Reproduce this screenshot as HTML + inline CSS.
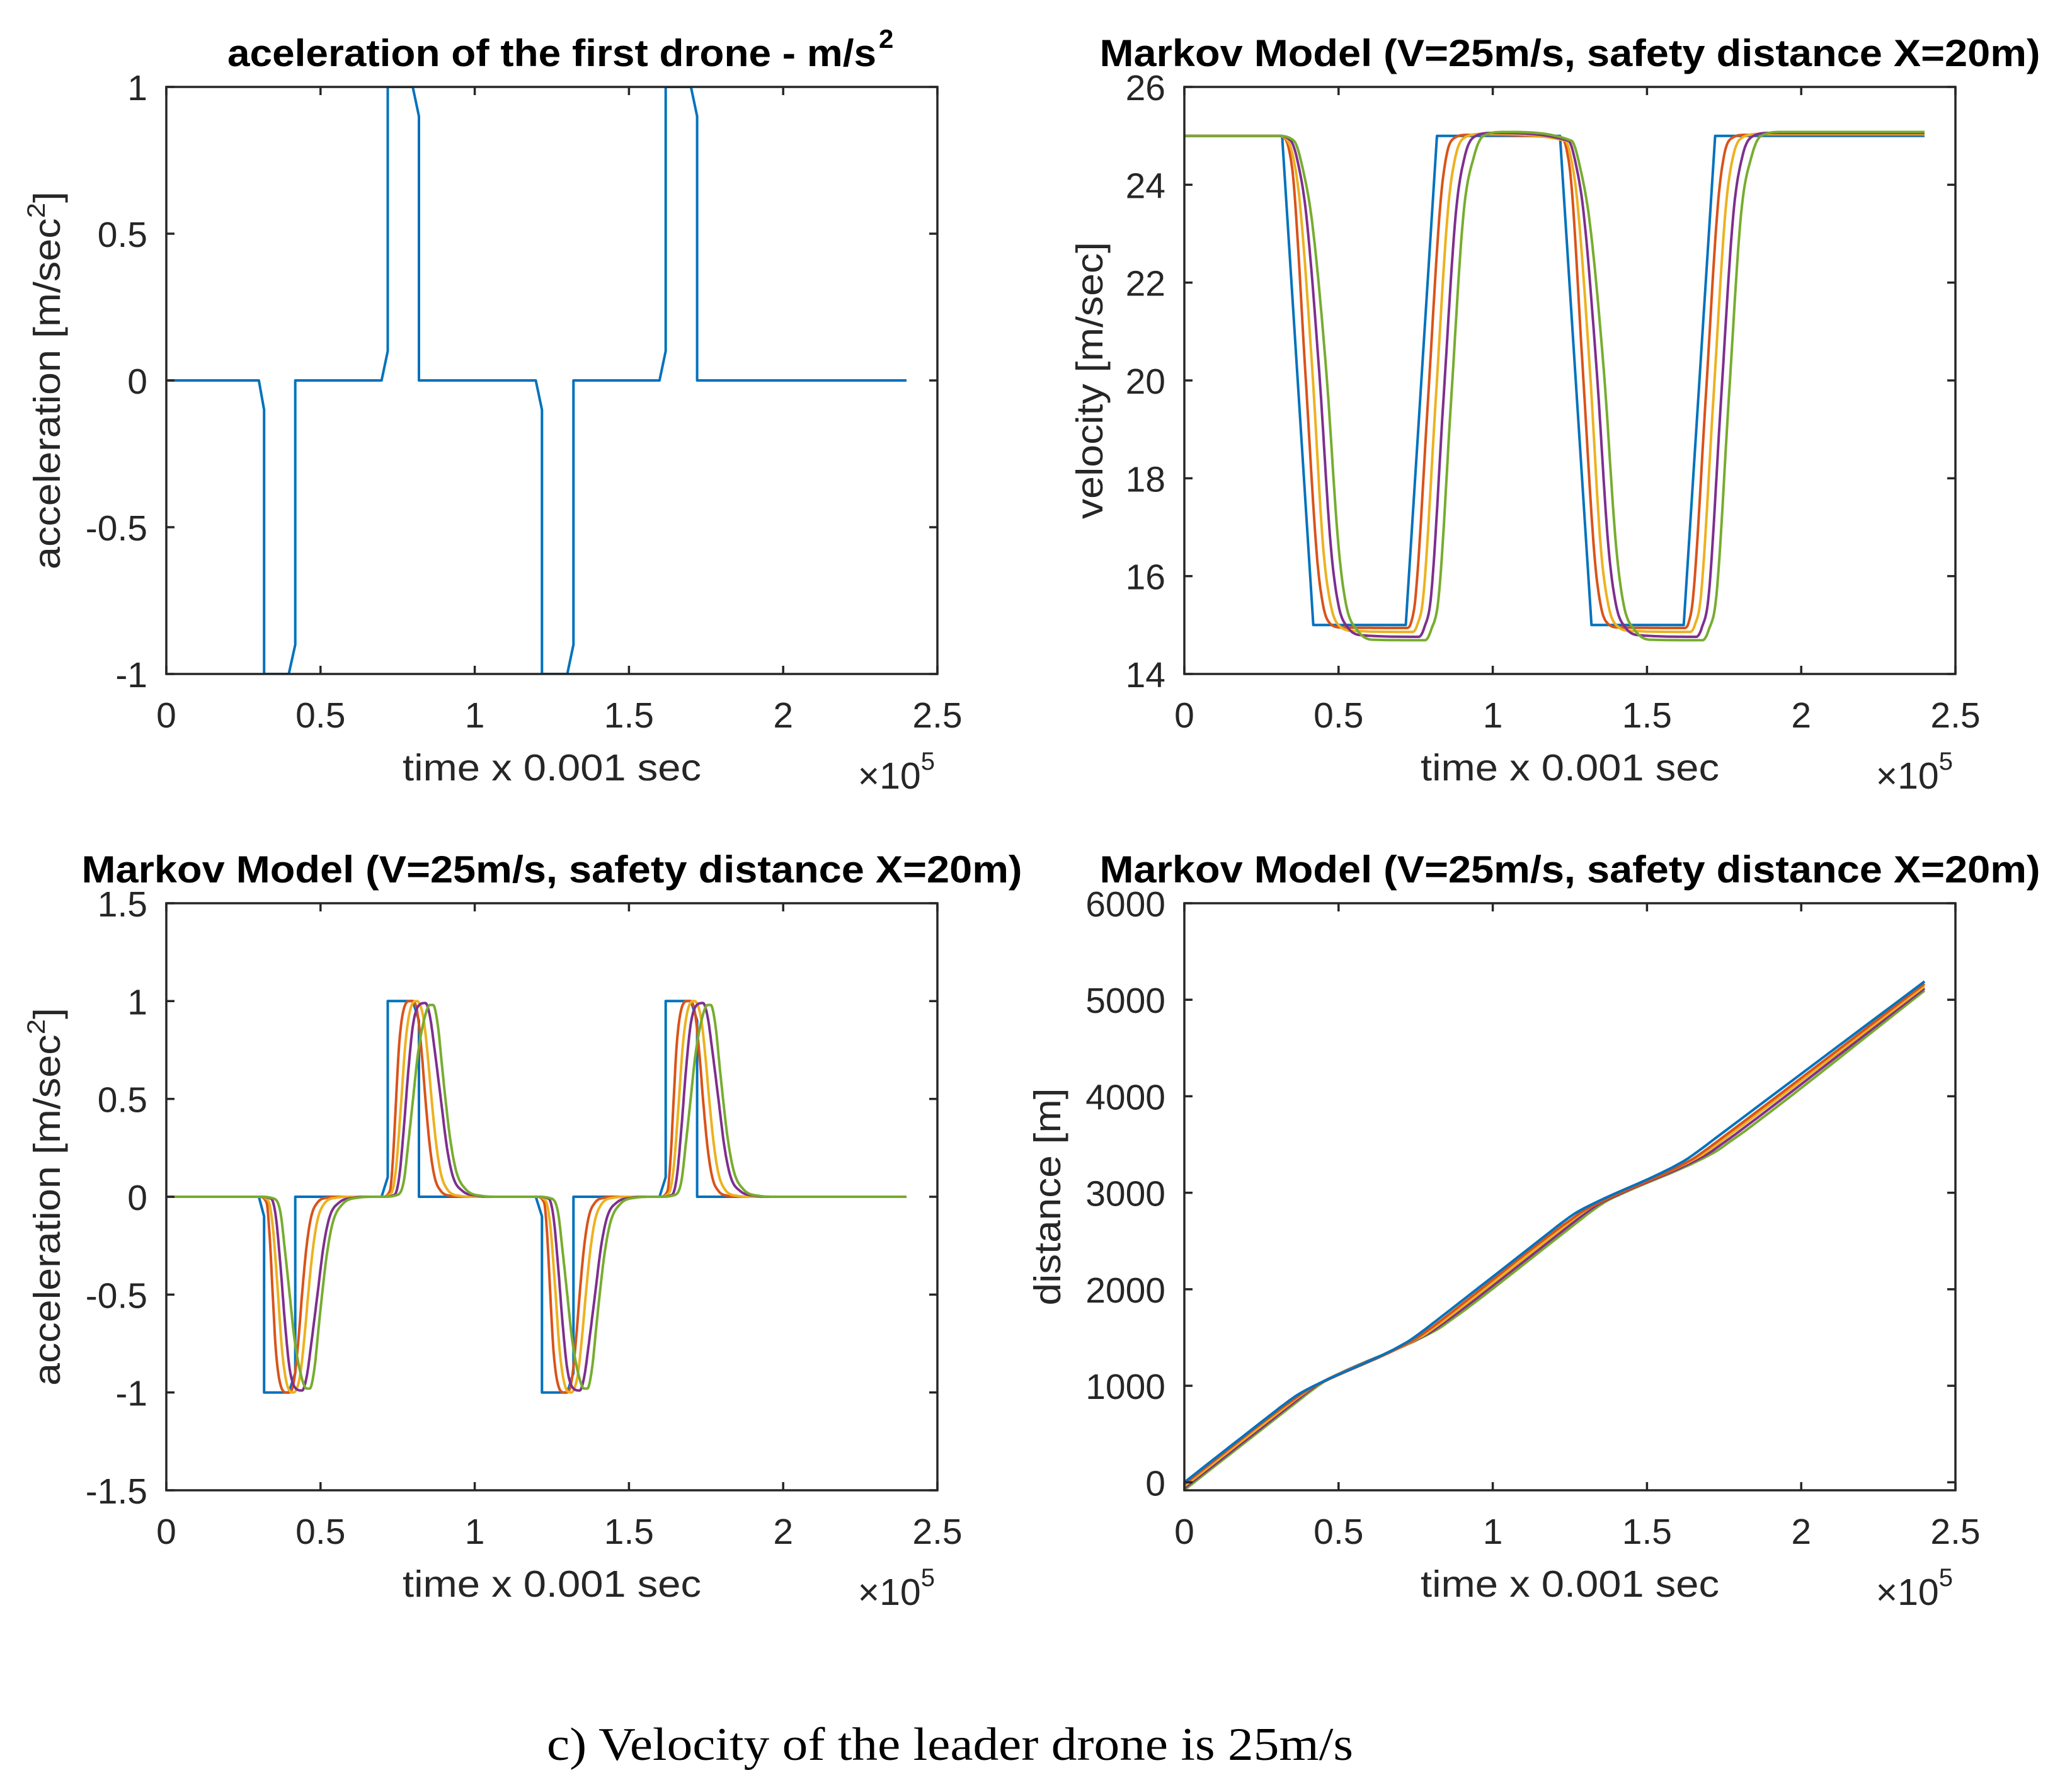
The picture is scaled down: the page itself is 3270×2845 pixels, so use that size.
<!DOCTYPE html>
<html><head><meta charset="utf-8"><style>
html,body{margin:0;padding:0;background:#fff}
svg{display:block}
text{font-family:"Liberation Sans",Arial,sans-serif;fill:#262626}
.ttl{font-weight:bold;fill:#000;font-size:60px}
.tick{font-size:57px}
.lab{font-size:59px}
</style></head><body>
<svg id="fig" width="3270" height="2845" viewBox="0 0 3270 2845" xmlns="http://www.w3.org/2000/svg">
<text x="1508" y="2794" text-anchor="middle" style="font-family:'Liberation Serif',serif;font-size:74px;fill:#000" textLength="1280" lengthAdjust="spacingAndGlyphs">c) Velocity of the leader drone is 25m/s</text>
</svg>
<script>
// ---------- data ----------
const xTicks = [0, 0.5, 1, 1.5, 2, 2.5];
const xTickLabels = ["0", "0.5", "1", "1.5", "2", "2.5"];
const seriesColors = ["#0072BD", "#D95319", "#EDB120", "#7E2F8E", "#77AC30"];

// Plot 1: leader acceleration
const accT = [0, 0.30, 0.317, 0.317, 0.397, 0.418, 0.418, 0.698, 0.718, 0.718, 0.799, 0.819, 0.819, 1.198, 1.218, 1.218, 1.300, 1.320, 1.320, 1.599, 1.619, 1.619, 1.701, 1.721, 1.721, 2.40];
const accV = [0, 0, -0.1, -1, -1, -0.9, 0, 0, 0.1, 1, 1, 0.9, 0, 0, -0.1, -1, -1, -0.9, 0, 0, 0.1, 1, 1, 0.9, 0, 0];
const acc1YTicks = [-1, -0.5, 0, 0.5, 1];
const acc1YLabels = ["-1", "-0.5", "0", "0.5", "1"];

// Plot 2: velocities (followers given relative to cycle start)
const velCycleStarts = [0.30, 1.20];
const velLeaderT = [0, 0.30, 0.317, 0.418, 0.718, 0.819, 1.20, 1.218, 1.32, 1.619, 1.721, 2.40];
const velLeaderV = [25, 25, 25, 15, 15, 25, 25, 25, 15, 15, 25, 25];
const velOff1 = [0, 0.025, 0.04, 0.055, 0.092, 0.13, 0.15, 0.17, 0.21, 0.42, 0.435, 0.45, 0.49, 0.53, 0.55, 0.57, 0.62];
const velVal1 = [25, 24.95, 24.7, 24.0, 20.2, 16.4, 15.4, 15.05, 14.95, 14.94, 15.05, 15.6, 19.6, 23.6, 24.6, 24.93, 25.02];
const velOff2 = [0, 0.035, 0.055, 0.075, 0.115, 0.15, 0.175, 0.20, 0.25, 0.44, 0.455, 0.475, 0.515, 0.555, 0.58, 0.61, 0.67];
const velVal2 = [25, 24.9, 24.5, 23.6, 20.2, 16.6, 15.4, 15.0, 14.88, 14.86, 15.0, 15.6, 19.6, 23.5, 24.6, 24.97, 25.04];
const velOff3 = [0, 0.045, 0.07, 0.095, 0.137, 0.175, 0.20, 0.23, 0.28, 0.46, 0.478, 0.50, 0.54, 0.58, 0.61, 0.64, 0.70];
const velVal3 = [25, 24.9, 24.4, 23.4, 20.2, 16.6, 15.4, 14.95, 14.79, 14.76, 14.95, 15.6, 19.6, 23.4, 24.6, 24.98, 25.06];
const velOff4 = [0, 0.055, 0.085, 0.115, 0.16, 0.20, 0.225, 0.26, 0.31, 0.48, 0.50, 0.525, 0.565, 0.605, 0.64, 0.67, 0.74];
const velVal4 = [25, 24.9, 24.3, 23.2, 20.2, 16.6, 15.4, 14.9, 14.7, 14.69, 14.9, 15.6, 19.6, 23.4, 24.6, 25.0, 25.08];
const velYTicks = [14, 16, 18, 20, 22, 24, 26];
const velYLabels = ["14", "16", "18", "20", "22", "24", "26"];

// Plot 3: follower accelerations (pulse shapes relative to pulse start)
const pulseStarts = [0.30, 0.70, 1.20, 1.60];
const pulseSigns = [-1, 1, -1, 1];
const pOff1 = [0, 0.025, 0.035, 0.045, 0.055, 0.07, 0.09, 0.10, 0.115, 0.13, 0.14, 0.155, 0.17, 0.19, 0.22, 0.26];
const pVal1 = [0, 0.03, 0.2, 0.5, 0.78, 0.96, 1.0, 1.0, 0.93, 0.7, 0.5, 0.25, 0.1, 0.03, 0.005, 0];
const pOff2 = [0, 0.03, 0.045, 0.06, 0.075, 0.09, 0.11, 0.12, 0.135, 0.15, 0.16, 0.175, 0.19, 0.21, 0.25, 0.30];
const pVal2 = [0, 0.02, 0.15, 0.45, 0.78, 0.95, 1.0, 0.99, 0.9, 0.68, 0.5, 0.27, 0.12, 0.04, 0.005, 0];
const pOff3 = [0, 0.04, 0.055, 0.07, 0.085, 0.10, 0.12, 0.14, 0.155, 0.17, 0.19, 0.21, 0.23, 0.26, 0.31, 0.36];
const pVal3 = [0, 0.01, 0.1, 0.35, 0.65, 0.88, 0.98, 0.99, 0.92, 0.75, 0.5, 0.25, 0.1, 0.03, 0.005, 0];
const pOff4 = [0, 0.05, 0.07, 0.085, 0.10, 0.115, 0.135, 0.155, 0.165, 0.18, 0.195, 0.205, 0.22, 0.24, 0.27, 0.32, 0.38];
const pVal4 = [0, 0.01, 0.08, 0.28, 0.5, 0.72, 0.9, 0.98, 0.98, 0.88, 0.65, 0.5, 0.3, 0.13, 0.04, 0.005, 0];
const acc3YTicks = [-1.5, -1, -0.5, 0, 0.5, 1, 1.5];
const acc3YLabels = ["-1.5", "-1", "-0.5", "0", "0.5", "1", "1.5"];

// Plot 4: distances
const distT0 = [0, 0.30, 0.317, 0.367, 0.418, 0.718, 0.768, 0.819, 1.20, 1.218, 1.268, 1.32, 1.619, 1.669, 1.721, 2.40];
const dist0 = [0, 750, 792, 906, 995, 1445, 1555, 1680, 2630, 2675, 2789, 2878, 3328, 3438, 3563, 5190];
const distT1 = [0, 0.32, 0.342, 0.392, 0.443, 0.743, 0.793, 0.844, 1.22, 1.243, 1.293, 1.345, 1.644, 1.694, 1.746, 2.40];
const dist1 = [-20, 780, 830, 942, 1028, 1473, 1583, 1706, 2646, 2698, 2810, 2897, 3342, 3452, 3575, 5165];
const distT2 = [0, 0.34, 0.367, 0.417, 0.468, 0.768, 0.818, 0.869, 1.24, 1.268, 1.318, 1.37, 1.669, 1.719, 1.771, 2.40];
const dist2 = [-40, 810, 876, 988, 1072, 1510, 1620, 1742, 2670, 2740, 2852, 2937, 3375, 3485, 3607, 5140];
const distT3 = [0, 0.36, 0.392, 0.442, 0.493, 0.793, 0.843, 0.894, 1.26, 1.293, 1.343, 1.395, 1.694, 1.744, 1.796, 2.40];
const dist3 = [-60, 840, 920, 1030, 1112, 1546, 1656, 1776, 2690, 2772, 2882, 2964, 3398, 3508, 3628, 5118];
const distT4 = [0, 0.38, 0.417, 0.467, 0.518, 0.818, 0.868, 0.919, 1.28, 1.318, 1.368, 1.42, 1.719, 1.769, 1.821, 2.40];
const dist4 = [-80, 870, 962, 1070, 1150, 1580, 1690, 1808, 2710, 2804, 2912, 2992, 3420, 3530, 3648, 5095];
const distYTicks = [0, 1000, 2000, 3000, 4000, 5000, 6000];
const distYLabels = ["0", "1000", "2000", "3000", "4000", "5000", "6000"];

// ---------- helpers ----------
const NS = "http://www.w3.org/2000/svg";
const fig = document.getElementById("fig");
function mk(tag, attrs, parent) {
  const e = document.createElementNS(NS, tag);
  for (const k in attrs) e.setAttribute(k, attrs[k]);
  (parent || fig).appendChild(e);
  return e;
}
function monotone(xs, ys, n) {
  const m = xs.length, d = [], t = [];
  for (let i = 0; i < m - 1; i++) d.push((ys[i + 1] - ys[i]) / (xs[i + 1] - xs[i] || 1e-9));
  for (let i = 0; i < m; i++) {
    if (i === 0) t.push(d[0]); else if (i === m - 1) t.push(d[m - 2]);
    else t.push(d[i - 1] * d[i] <= 0 ? 0 : (d[i - 1] + d[i]) / 2);
  }
  for (let i = 0; i < m - 1; i++) {
    if (d[i] === 0) { t[i] = 0; t[i + 1] = 0; continue; }
    const a = t[i] / d[i], b = t[i + 1] / d[i], s = a * a + b * b;
    if (s > 9) { const k = 3 / Math.sqrt(s); t[i] = k * a * d[i]; t[i + 1] = k * b * d[i]; }
  }
  const px = [], py = [];
  for (let i = 0; i < m - 1; i++) {
    const h = xs[i + 1] - xs[i];
    for (let j = 0; j < n; j++) {
      const u = j / n, h00 = 2*u*u*u - 3*u*u + 1, h10 = u*u*u - 2*u*u + u, h01 = -2*u*u*u + 3*u*u, h11 = u*u*u - u*u;
      px.push(xs[i] + u * h);
      py.push(h00 * ys[i] + h10 * h * t[i] + h01 * ys[i + 1] + h11 * h * t[i + 1]);
    }
  }
  px.push(xs[m - 1]); py.push(ys[m - 1]);
  return [px, py];
}
function makeAxes(name, L, T, W, H, ymin, ymax, yTicks, yLabels, title, titleLen, ylabel, ylabelX, ylabelLen, supTitle) {
  const g = mk("g", {});
  
  
  const sx = v => L + (v - 0) / 2.5 * W;
  const sy = v => T + H - (v - ymin) / (ymax - ymin) * H;
  const clipId = name + "-clip";
  const cp = mk("clipPath", { id: clipId }, g);
  mk("rect", { x: L, y: T, width: W, height: H }, cp);
  const lines = mk("g", { "clip-path": "url(#" + clipId + ")" }, g);
  
  
  const box = mk("rect", { x: L, y: T, width: W, height: H, fill: "none", stroke: "#262626", "stroke-width": 3.5 }, g);
  
  
  xTicks.forEach((v, i) => {
    const x = sx(v);
    mk("line", { x1: x, y1: T + H, x2: x, y2: T + H - 13, stroke: "#262626", "stroke-width": 3.5 }, g);
    mk("line", { x1: x, y1: T, x2: x, y2: T + 13, stroke: "#262626", "stroke-width": 3.5 }, g);
    const tx = mk("text", { x: x, y: T + H + 85, "text-anchor": "middle", class: "tick" }, g);
    tx.textContent = xTickLabels[i];
    
    
  });
  yTicks.forEach((v, i) => {
    const y = sy(v);
    mk("line", { x1: L, y1: y, x2: L + 13, y2: y, stroke: "#262626", "stroke-width": 3.5 }, g);
    mk("line", { x1: L + W, y1: y, x2: L + W - 13, y2: y, stroke: "#262626", "stroke-width": 3.5 }, g);
    const ty = mk("text", { x: L - 30, y: y + 21, "text-anchor": "end", class: "tick" }, g);
    ty.textContent = yLabels[i];
    
    
  });
  const tt = mk("text", { x: L + W / 2, y: T - 33, "text-anchor": "middle", class: "ttl", textLength: titleLen, lengthAdjust: "spacingAndGlyphs" }, g);
  tt.textContent = title;
  
  
  if (supTitle) {
    const s = mk("text", { x: L + W / 2 + titleLen / 2 + 4, y: T - 62, class: "ttl", style: "font-size:42px" }, g);
    s.textContent = "2";
    
    
  }
  const xl = mk("text", { x: L + W / 2, y: T + H + 169, "text-anchor": "middle", class: "lab", textLength: 474, lengthAdjust: "spacingAndGlyphs" }, g);
  xl.textContent = "time x 0.001 sec";
  
  
  const ex = mk("text", { x: L + W - 4, y: T + H + 182, class: "lab", "text-anchor": "end" }, g);
  
  
  const t1 = mk("tspan", {}, ex);
  t1.textContent = "×10";
  const t2 = mk("tspan", { dy: -30, style: "font-size:40px" }, ex);
  t2.textContent = "5";
  const cy = T + H / 2;
  const yl = mk("text", { x: ylabelX, y: cy, "text-anchor": "middle", class: "lab", transform: "rotate(-90 " + ylabelX + " " + cy + ")", textLength: ylabelLen, lengthAdjust: "spacingAndGlyphs" }, g);
  
  
  if (ylabel.indexOf("sec2") >= 0) {
    yl.textContent = "acceleration [m/sec";
    const sp = mk("tspan", { dy: -24, style: "font-size:40px" }, yl);
    sp.textContent = "2";
    const sp2 = mk("tspan", { dy: 24 }, yl);
    sp2.textContent = "]";
  } else yl.textContent = ylabel;
  return { sx, sy, lines };
}
function drawLine(ax, xs, ys, color, name) {
  let d = "";
  for (let i = 0; i < xs.length; i++) d += (i ? "L" : "M") + ax.sx(xs[i]).toFixed(1) + "," + ax.sy(ys[i]).toFixed(1);
  const p = mk("path", { d: d, fill: "none", stroke: color, "stroke-width": 4, "stroke-linejoin": "round" }, ax.lines);
  
  
}

const L1 = 264, L2 = 1880, T1 = 138, T2 = 1434, W = 1224, H = 932;

const ax1 = makeAxes("leader-acceleration-plot", L1, T1, W, H, -1, 1, acc1YTicks, acc1YLabels,
  "aceleration of the first drone - m/s", 1030, "acceleration [m/sec2]", 95, 600, true);
drawLine(ax1, accT, accV, seriesColors[0], "leader-acceleration-line");

const ax2 = makeAxes("velocity-plot", L2, T1, W, H, 14, 26, velYTicks, velYLabels,
  "Markov Model (V=25m/s, safety distance X=20m)", 1493, "velocity [m/sec]", 1750, 440, false);
drawLine(ax2, velLeaderT, velLeaderV, seriesColors[0], "velocity-line-leader");
[[velOff1, velVal1], [velOff2, velVal2], [velOff3, velVal3], [velOff4, velVal4]].forEach((s, k) => {
  const xs = [0], ys = [25];
  velCycleStarts.forEach((c, ci) => {
    s[0].forEach((o, j) => { if (ci === 1 && j === 0) return; xs.push(c + o); ys.push(s[1][j]); });
  });
  xs.push(2.4); ys.push(s[1][s[1].length - 1]);
  const r = monotone(xs, ys, 12);
  drawLine(ax2, r[0], r[1], seriesColors[k + 1], "velocity-line-follower-" + (k + 1));
});

const ax3 = makeAxes("follower-acceleration-plot", L1, T2, W, H, -1.5, 1.5, acc3YTicks, acc3YLabels,
  "Markov Model (V=25m/s, safety distance X=20m)", 1493, "acceleration [m/sec2]", 95, 600, false);
drawLine(ax3, accT, accV, seriesColors[0], "acceleration-line-leader");
[[pOff1, pVal1], [pOff2, pVal2], [pOff3, pVal3], [pOff4, pVal4]].forEach((s, k) => {
  const xs = [0], ys = [0];
  pulseStarts.forEach((c, ci) => {
    s[0].forEach((o, j) => { xs.push(c + o + (j === 0 ? 0.0001 : 0)); ys.push(s[1][j] * pulseSigns[ci]); });
  });
  xs.push(2.4); ys.push(0);
  const r = monotone(xs, ys, 10);
  drawLine(ax3, r[0], r[1], seriesColors[k + 1], "acceleration-line-follower-" + (k + 1));
});

const ax4 = makeAxes("distance-plot", L2, T2, W, H, -83, 6000, distYTicks, distYLabels,
  "Markov Model (V=25m/s, safety distance X=20m)", 1493, "distance [m]", 1683, 345, false);
[[distT4, dist4], [distT3, dist3], [distT2, dist2], [distT1, dist1], [distT0, dist0]].forEach((s, i) => {
  const k = 4 - i;
  const r = monotone(s[0], s[1], 8);
  drawLine(ax4, r[0], r[1], seriesColors[k], "distance-line-" + k);
});
</script>
</body></html>
